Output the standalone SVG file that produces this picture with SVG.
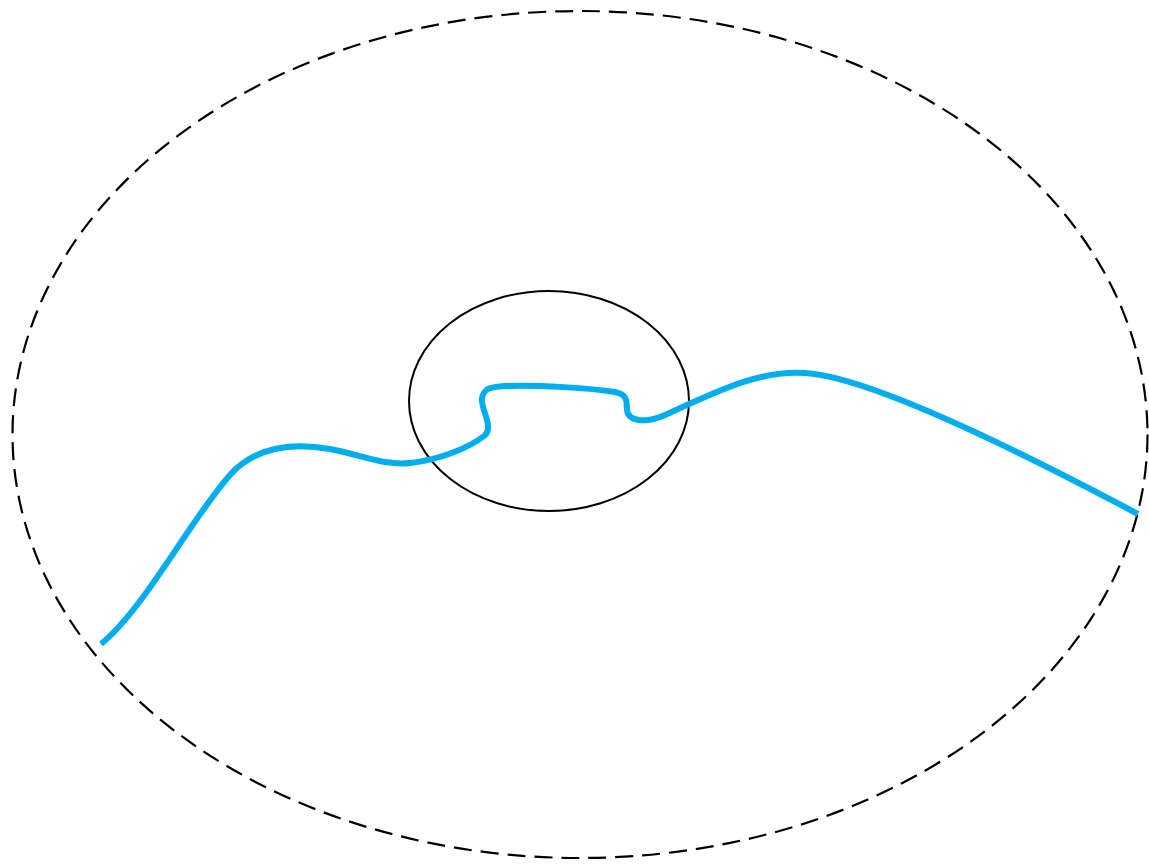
<svg xmlns="http://www.w3.org/2000/svg" width="1149" height="864" viewBox="0 0 1149 864">
<style>
.outer{fill:none;stroke:#000;stroke-width:2.2;stroke-dasharray:18 9}
.inner{fill:none;stroke:#000;stroke-width:2}
.wire{fill:none;stroke:#00AEEF;stroke-width:6;stroke-linecap:butt;stroke-linejoin:round}
</style>
<rect width="1149" height="864" fill="#fff"/>
<g id="outer-region">
<ellipse class="outer" cx="580" cy="434.5" rx="567.5" ry="423.5"/>
</g>
<g id="inner-region">
<ellipse class="inner" cx="549" cy="401" rx="140" ry="110"/>
</g>
<g id="connectors">
<path class="wire" d="M 101 644 C 145 608, 190 520, 230 475 C 255 447, 290 442, 330 449 C 362 455, 385 466, 410 463 C 440 460, 470 447, 484 436 C 495 428, 480 408, 482 398 C 484 388, 490 387, 505 386 C 540 385, 590 388, 615 392 C 630 395, 626 405, 627 410 C 628 421, 645 424, 665 415 C 720 390, 760 370, 805 373 C 860 376, 980 430, 1138 514"/>
</g>
</svg>
